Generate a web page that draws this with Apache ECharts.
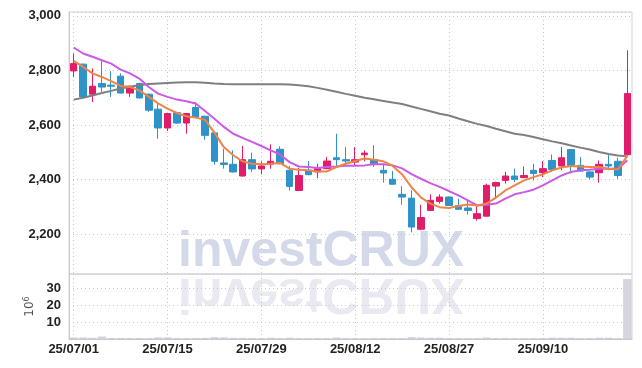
<!DOCTYPE html>
<html>
<head>
<meta charset="utf-8">
<script src="https://cdn.jsdelivr.net/npm/echarts@6/dist/echarts.min.js"></script>
<style>
html,body{margin:0;padding:0;background:#fff;}
#chart{width:642px;height:368px;}
</style>
</head>
<body>
<div id="chart"></div>
<script>
var dates = ['25/07/01','25/07/02','25/07/03','25/07/04','25/07/07','25/07/08','25/07/09','25/07/10','25/07/11','25/07/14',
'25/07/15','25/07/16','25/07/17','25/07/18','25/07/21','25/07/22','25/07/23','25/07/24','25/07/25','25/07/28',
'25/07/29','25/07/30','25/07/31','25/08/01','25/08/04','25/08/05','25/08/06','25/08/07','25/08/08','25/08/11',
'25/08/12','25/08/13','25/08/14','25/08/18','25/08/19','25/08/20','25/08/21','25/08/22','25/08/25','25/08/26',
'25/08/27','25/08/28','25/08/29','25/09/01','25/09/02','25/09/03','25/09/04','25/09/05','25/09/08','25/09/09',
'25/09/10','25/09/11','25/09/12','25/09/15','25/09/16','25/09/17','25/09/18','25/09/19','25/09/22','25/09/23'];

var openP  = [2798,2823,2713,2752,2746,2779,2717,2752,2713,2658,2589,2645,2607,2664,2632,2571,2461,2456,2413,2473,
              2439,2456,2511,2434,2360,2434,2428,2440,2480,2473,2464,2491,2473,2434,2401,2346,2332,2218,2287,2320,
              2336,2305,2296,2257,2266,2376,2397,2413,2407,2434,2425,2470,2450,2510,2452,2428,2425,2456,2467,2491];
var closeP = [2825,2703,2742,2739,2742,2717,2742,2699,2654,2589,2642,2607,2642,2629,2562,2467,2455,2428,2473,2439,
              2450,2467,2458,2375,2415,2418,2440,2468,2473,2468,2473,2497,2457,2424,2383,2336,2226,2261,2324,2336,
              2305,2291,2287,2275,2379,2389,2413,2401,2415,2422,2440,2437,2480,2452,2431,2409,2456,2450,2415,2715];
var lowP   = [2776,2700,2684,2721,2703,2715,2703,2697,2648,2550,2578,2604,2568,2626,2546,2455,2440,2426,2411,2428,
              2419,2440,2456,2360,2358,2416,2405,2438,2446,2452,2450,2467,2446,2389,2381,2308,2207,2215,2285,2312,
              2303,2289,2272,2250,2264,2330,2385,2391,2405,2397,2409,2428,2434,2422,2429,2401,2389,2434,2403,2488];
var highP  = [2862,2825,2807,2834,2797,2789,2745,2755,2715,2679,2644,2648,2644,2684,2634,2573,2513,2507,2523,2499,
              2467,2529,2522,2450,2443,2468,2458,2483,2568,2519,2519,2507,2526,2458,2431,2376,2360,2308,2346,2346,
              2338,2330,2327,2302,2385,2392,2428,2440,2448,2458,2468,2492,2519,2512,2483,2430,2470,2495,2480,2874];

var maShort = [2835,2813,2789,2776,2761,2743,2739,2727,2703,2679,2660,2644,2632,2627,2619,2572,2519,2489,2467,2458,
               2456,2458,2461,2440,2436,2434,2430,2430,2446,2458,2468,2477,2473,2467,2450,2419,2372,2335,2312,2299,
               2296,2303,2309,2305,2312,2334,2360,2379,2397,2409,2419,2434,2444,2450,2448,2446,2446,2440,2437,2487];
var maMid   = [2884,2862,2850,2837,2825,2803,2789,2770,2739,2715,2703,2693,2687,2679,2651,2623,2593,2568,2553,2538,
               2523,2507,2492,2464,2448,2446,2442,2446,2448,2451,2451,2452,2456,2456,2452,2441,2420,2403,2387,2373,
               2358,2342,2324,2305,2308,2312,2330,2346,2354,2363,2379,2397,2415,2428,2434,2436,2440,2440,2440,2471];
var maLong  = [2693,2700,2708,2717,2725,2734,2740,2746,2750,2752,2754,2756,2757,2757,2755,2752,2750,2749,2749,2749,
               2749,2749,2749,2748,2746,2742,2736,2729,2722,2714,2707,2700,2694,2688,2682,2677,2668,2659,2650,2641,
               2635,2624,2614,2604,2596,2586,2577,2568,2563,2556,2548,2540,2533,2525,2517,2510,2501,2494,2488,2485];

var volume = [0.8,0.8,0.7,1.4,0.4,0.4,0.4,0.4,0.3,0.9,0.9,0.3,0.3,0.5,0.5,1.0,0.9,0.6,0.6,0.4,
              0.2,0.7,0.3,0.7,0.2,0.2,0.2,0.2,0.8,0.2,0.2,0.2,0.2,0.2,0.2,0.2,1.0,0.8,0.7,0.7,
              0.2,0.2,0.2,0.2,0.8,0.2,0.2,0.2,0.2,0.2,0.2,0.7,0.7,0.7,0.2,0.2,0.7,0.7,0.2,35.5];

var candleData = dates.map(function (d, i) { return [openP[i], closeP[i], lowP[i], highP[i]]; });

var labelFont = "'Liberation Sans', Arial, sans-serif";
var gridColor = '#c6c6da';
var borderColor = '#d0d0dc';

function commas(v) {
  return String(Math.round(v)).replace(/\B(?=(\d{3})+(?!\d))/g, ',');
}

var chart = echarts.init(document.getElementById('chart'), null, {renderer: 'canvas'});
chart.setOption({
  animation: false,
  backgroundColor: '#ffffff',
  grid: [
    {left: 69, right: 10, top: 12, height: 262, show: true, borderColor: borderColor, borderWidth: 1},
    {left: 69, right: 10, top: 274, height: 65, show: true, borderColor: borderColor, borderWidth: 1}
  ],
  graphic: [
    {type: 'text', z: -10, x: 178, y: 252.5,
     style: {text: 'investCRUX', font: "bold 50px 'Liberation Sans', Arial, sans-serif", fill: '#d3d9e9', verticalAlign: 'middle'}},
    {type: 'text', z: -10, x: 178, y: 293, scaleY: -1,
     style: {text: 'investCRUX', font: "bold 50px 'Liberation Sans', Arial, sans-serif", fill: '#e8e9f1', verticalAlign: 'middle'}}
  ],
  xAxis: [
    {type: 'category', gridIndex: 0, data: dates, boundaryGap: true,
     axisLine: {show: false}, axisTick: {show: false}, axisLabel: {show: false},
     splitLine: {show: true, interval: 9, alignWithLabel: true, lineStyle: {type: [1, 3], color: gridColor, width: 1}}},
    {type: 'category', gridIndex: 1, data: dates, boundaryGap: true,
     axisLine: {show: true, lineStyle: {color: '#c8c8d4', width: 1}}, axisTick: {show: false},
     axisLabel: {interval: 9, margin: 4, fontFamily: labelFont, fontWeight: 'bold', fontSize: 13, color: '#222'},
     splitLine: {show: true, interval: 9, alignWithLabel: true, lineStyle: {type: [1, 3], color: gridColor, width: 1}}}
  ],
  yAxis: [
    {type: 'value', gridIndex: 0, min: 2054, max: 3014, splitNumber: 5,
     axisLine: {show: true, lineStyle: {color: '#c8c8d8'}}, axisTick: {show: false},
     axisLabel: {showMinLabel: false, showMaxLabel: false, margin: 8, fontFamily: labelFont, fontWeight: 'bold', fontSize: 13, color: '#222',
                 formatter: function (v) { return commas(v); }},
     splitLine: {show: true, lineStyle: {type: [1, 3], color: gridColor, width: 1}}},
    {type: 'value', gridIndex: 1, min: 0, max: 38.6, splitNumber: 4,
     axisLine: {show: true, lineStyle: {color: '#c8c8d8'}}, axisTick: {show: false},
     name: '{b|10}{s|6}', nameLocation: 'middle', nameRotate: 90, nameGap: 22,
     nameTextStyle: {rich: {b: {fontSize: 12, color: '#555', fontFamily: 'DejaVu Sans'}, s: {fontSize: 8, color: '#555', fontFamily: 'DejaVu Sans', verticalAlign: 'top', padding: [0, 0, 6, 0]}}},
     axisLabel: {showMinLabel: false, showMaxLabel: false, margin: 8, fontFamily: labelFont, fontWeight: 'bold', fontSize: 13, color: '#222'},
     splitLine: {show: true, lineStyle: {type: [1, 3], color: gridColor, width: 1}}}
  ],
  series: [
    {type: 'bar', xAxisIndex: 1, yAxisIndex: 1, data: volume, barWidth: 8,
     itemStyle: {color: '#d6d6de', borderColor: '#c4c4cc', borderWidth: 0.5}},
    {type: 'candlestick', xAxisIndex: 0, yAxisIndex: 0, data: candleData, barWidth: 7,
     itemStyle: {color: '#e31c6a', color0: '#2e93c8', borderColor: '#e31c6a', borderColor0: '#2e93c8', borderWidth: 1}},
    {type: 'line', xAxisIndex: 0, yAxisIndex: 0, data: maLong, symbol: 'none', lineStyle: {color: '#7f7f7f', width: 2}},
    {type: 'line', xAxisIndex: 0, yAxisIndex: 0, data: maMid, symbol: 'none', lineStyle: {color: '#cc5ae6', width: 2}},
    {type: 'line', xAxisIndex: 0, yAxisIndex: 0, data: maShort, symbol: 'none', lineStyle: {color: '#ee8446', width: 2}}
  ]
});
</script>
</body>
</html>
